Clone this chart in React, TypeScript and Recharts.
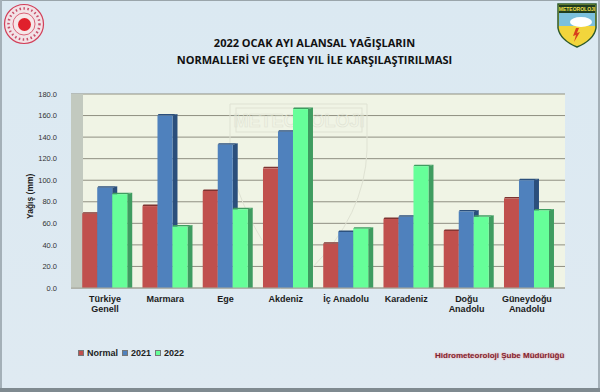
import { Bar, BarChart, CartesianGrid, Legend, XAxis, YAxis, usePlotArea } from 'recharts';

const categories = ['Türkiye Geneli', 'Marmara', 'Ege', 'Akdeniz', 'İç Anadolu', 'Karadeniz', 'Doğu Anadolu', 'Güneydoğu Anadolu'];
const normal = [69, 76, 90, 111, 41, 64, 53, 83];
const y2021 = [93, 160, 133, 145, 52, 66, 71, 100];
const y2022 = [87, 57, 73, 166, 55, 113, 66, 72];
const yTicks = [0, 20, 40, 60, 80, 100, 120, 140, 160, 180];
const seriesNames = ['Normal', '2021', '2022'];
const seriesColors = ['#c0504d', '#4f81bd', '#66ff99'];

const data = categories.map((name, i) => ({
  name,
  Normal: normal[i],
  '2021': y2021[i],
  '2022': y2022[i],
}));

const labelLines: Record<string, string[]> = {
  'Türkiye Geneli': ['Türkiye', 'Genell'],
  'Doğu Anadolu': ['Doğu', 'Anadolu'],
  'Güneydoğu Anadolu': ['Güneydoğu', 'Anadolu'],
};

const Bar3D = (props: any) => {
  const { x, y, width, height, fill, side } = props;
  const d = 5;
  const up = 1.5;
  return (
    <g>
      <polygon
        points={`${x + width},${y} ${x + width + d},${y - up} ${x + width + d},${y + height} ${x + width},${y + height}`}
        fill={side}
      />
      <polygon
        points={`${x},${y} ${x + 1},${y - up} ${x + width + d},${y - up} ${x + width},${y}`}
        fill={side}
      />
      <rect x={x} y={y} width={width} height={height} fill={fill} />
    </g>
  );
};

const SideWall = () => {
  const plot = usePlotArea();
  if (!plot) return null;
  return <rect x={plot.x} y={plot.y} width={12} height={plot.height} fill="#c2c9bf" />;
};

// faint shield watermark behind the bars
const Watermark = () => {
  return (
    <g fill="none" stroke="#dfe2d3" strokeWidth={1}>
      <path d="M230 104 H367 V150 Q365 215 310 270 Q290 285 280 288 M230 104 V150 Q232 190 262 240" />
      <rect x={236} y={108} width={126} height={24} />
      <text x={299} y={127} textAnchor="middle" fontSize={18} fontWeight="bold" fill="none" stroke="#dfe2d3" strokeWidth={0.6} fontFamily="Liberation Sans">
        METEOROLOJI
      </text>
    </g>
  );
};

const CategoryTick = (props: any) => {
  const { x, y, payload } = props;
  const lines = labelLines[payload.value] || [payload.value];
  return (
    <text x={x} y={y + 6} textAnchor="middle" fontSize={9} fontWeight="bold" fill="#1c1c1c" fontFamily="Liberation Sans">
      {lines.map((l, i) => (
        <tspan key={l} x={x} dy={i === 0 ? 0 : 10}>
          {l}
        </tspan>
      ))}
    </text>
  );
};

const LegendRow = () => (
  <div style={{ display: 'flex', alignItems: 'center', fontSize: 9, fontWeight: 'bold', color: '#222', fontFamily: 'Liberation Sans' }}>
    {seriesNames.map((s, i) => (
      <span key={s} style={{ display: 'flex', alignItems: 'center', marginRight: 4 }}>
        <span style={{ width: 4, height: 4, marginRight: 3, background: seriesColors[i], border: '0.5px solid #777' }} />
        {s}
      </span>
    ))}
  </div>
);

const abs = { position: 'absolute' } as const;

function Emblem() {
  return (
    <svg width={46} height={46} style={{ ...abs, left: 1, top: 1 }}>
      <circle cx={23} cy={23} r={19.5} fill="#f2e2e6" stroke="#d2405a" strokeWidth={1.2} />
      <circle cx={23} cy={23} r={15.5} fill="none" stroke="#c8506a" strokeWidth={2.5} strokeDasharray="1.5 2.5" />
      <circle cx={23} cy={23} r={11} fill="#f6e6e8" stroke="#d2405a" strokeWidth={0.8} />
      <circle cx={23.5} cy={23.5} r={6.5} fill="#e0202c" />
    </svg>
  );
}

function Shield() {
  return (
    <svg width={42} height={48} style={{ ...abs, left: 556, top: 2 }}>
      <path d="M2 2 H40 V26 Q38 38 21 45 Q4 38 2 26 Z" fill="#f2d53c" stroke="#2c5a2c" strokeWidth={1.5} />
      <rect x={3} y={3} width={36} height={8} fill="#1f3d1f" />
      <rect x={3} y={11} width={36} height={13} fill="#7cc0dc" />
      <ellipse cx={25} cy={20} rx={11} ry={5} fill="#ffffff" />
      <path d="M20 26 L17 34 L20 33 L18 40 L24 30 L21 31 L23 26 Z" fill="#d8401c" />
      <text x={21} y={9} textAnchor="middle" fontSize={5} fontWeight="bold" fill="#f4e04a" fontFamily="Liberation Sans">
        METEOROLOJI
      </text>
    </svg>
  );
}

export default function App() {
  return (
    <div
      style={{
        position: 'absolute',
        left: 0,
        top: 0,
        width: 600,
        height: 392,
        overflow: 'hidden',
        background: 'linear-gradient(180deg, #dbe9f2 0%, #dfeaf2 100%)',
      }}
    >
      <div style={{ ...abs, left: 0, top: 0, width: 600, height: 1, background: '#9aa5ab' }} />
      <div style={{ ...abs, left: 0, top: 0, width: 2, height: 392, background: '#a4b0b8' }} />
      <div style={{ ...abs, left: 598, top: 0, width: 2, height: 392, background: '#a4b0b8' }} />
      <div style={{ ...abs, left: 0, top: 388, width: 600, height: 4, background: '#7f8a90' }} />
      <Emblem />
      <Shield />
      <div
        style={{
          ...abs,
          left: 0,
          top: 34,
          width: 629,
          textAlign: 'center',
          fontFamily: 'Open Sans',
          fontWeight: 700,
          fontSize: 11,
          lineHeight: '17px',
          color: '#111',
        }}
      >
        <div>2022 OCAK AYI ALANSAL YAĞIŞLARIN</div>
        <div>NORMALLERİ VE GEÇEN YIL İLE KARŞILAŞTIRILMASI</div>
      </div>
      <BarChart
        width={600}
        height={392}
        data={data}
        margin={{ top: 94, right: 35, bottom: 0, left: 0 }}
        barCategoryGap="12%"
        barGap={0}
        style={{ position: 'absolute', left: 0, top: 0 }}
      >
        <CartesianGrid vertical={false} stroke="#8f8f82" strokeWidth={1} fill="#f0f4e5" />
        <SideWall />
        <Watermark />
        <XAxis
          dataKey="name"
          height={104}
          interval={0}
          padding={{ left: 4, right: 8 }}
          tick={<CategoryTick />}
          tickLine={false}
          axisLine={{ stroke: '#a8a89c' }}
        />
        <YAxis
          width={71}
          domain={[0, 180]}
          ticks={yTicks}
          interval={0}
          tickFormatter={(v: number) => v.toFixed(1)}
          tick={{ fontSize: 7.5, fill: '#333', fontFamily: 'Liberation Sans' }}
          tickLine={false}
          axisLine={false}
          tickMargin={8}
          label={{
            value: 'Yağış (mm)',
            angle: -90,
            position: 'insideLeft',
            offset: 30,
            dy: 28,
            style: { fontSize: 8.5, fontWeight: 'bold', fill: '#222', fontFamily: 'Liberation Sans' },
          }}
        />
        <Legend
          layout="horizontal"
          align="center"
          verticalAlign="middle"
          content={<LegendRow />}
          wrapperStyle={{ left: 78, top: 348, width: 130 }}
        />
        <Bar dataKey="Normal" fill={seriesColors[0]} isAnimationActive={false} shape={<Bar3D side="#7f3330" />} />
        <Bar dataKey="2021" fill={seriesColors[1]} isAnimationActive={false} shape={<Bar3D side="#2b4f7c" />} />
        <Bar dataKey="2022" fill={seriesColors[2]} isAnimationActive={false} shape={<Bar3D side="#3f9c60" />} />
      </BarChart>
      <div
        style={{
          ...abs,
          left: 435,
          top: 351,
          fontFamily: 'Liberation Sans',
          fontWeight: 700,
          fontSize: 8,
          color: '#7d2530',
          textShadow: '0 0 2px #f08a90',
          whiteSpace: 'nowrap',
        }}
      >
        Hidrometeoroloji Şube Müdürlüğü
      </div>
    </div>
  );
}
